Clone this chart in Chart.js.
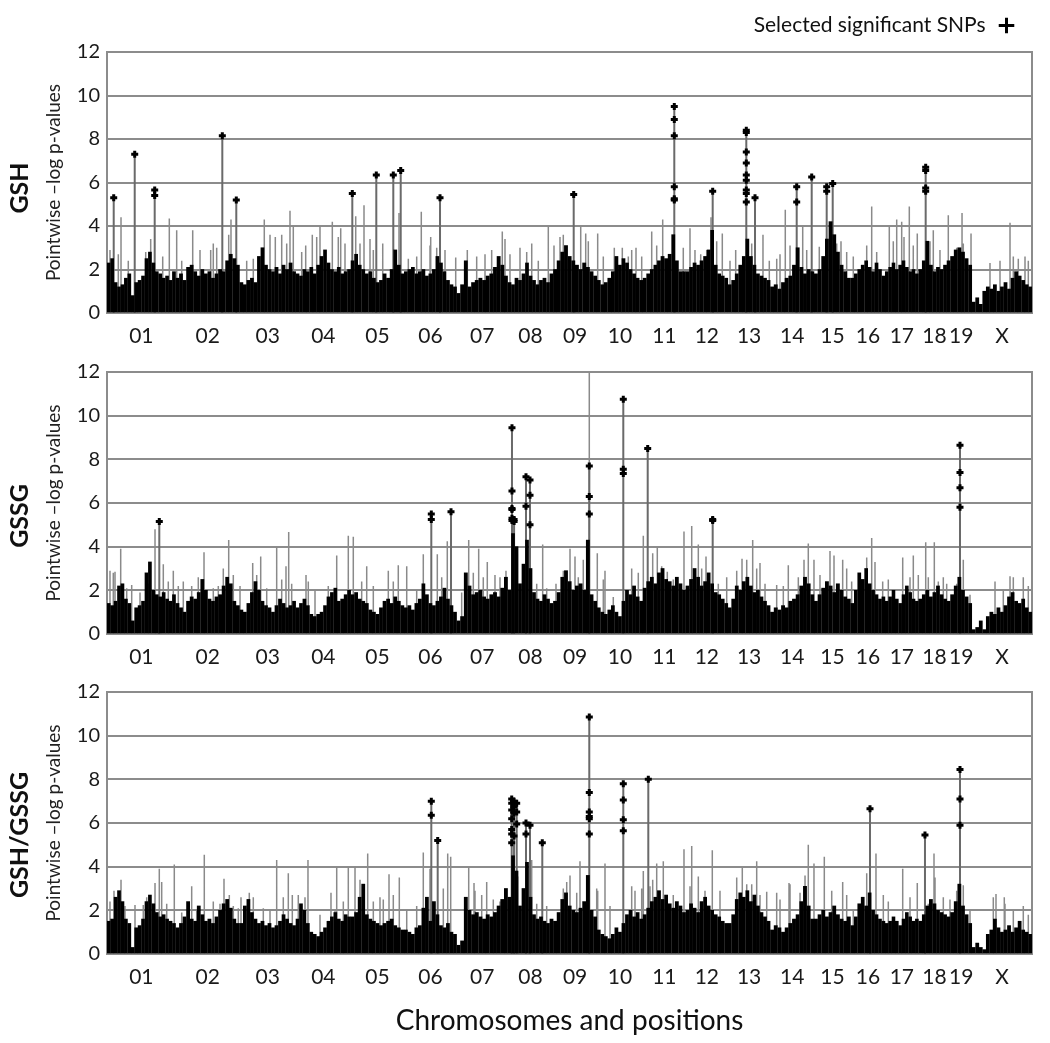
<!DOCTYPE html>
<html>
<head>
<meta charset="utf-8">
<script src="https://cdn.jsdelivr.net/npm/chart.js@4.4.1/dist/chart.umd.min.js"></script>
<style>
  body { margin: 0; background: #fff; width: 1050px; height: 1043px; position: relative; overflow: hidden; font-family: Lato, sans-serif; }
  .panel { position: absolute; left: 0; width: 1050px; }
  .tag { position: absolute; left: 18px; transform: translate(-50%, -50%) rotate(-90deg); font: bold 25px Lato, sans-serif; color: #111; white-space: nowrap; }
</style>
</head>
<body>
<div class="panel" style="top:0;height:345px"><canvas id="c1"></canvas></div>
<div class="panel" style="top:345px;height:320px"><canvas id="c2"></canvas></div>
<div class="panel" style="top:665px;height:378px"><canvas id="c3"></canvas></div>
<div class="tag" style="top:188px">GSH</div>
<div class="tag" style="top:516px">GSSG</div>
<div class="tag" style="top:835px">GSH/GSSG</div>
<script>
// chromosomes (Mb)
const chromNames = ['01','02','03','04','05','06','07','08','09','10','11','12','13','14','15','16','17','18','19','X'];
const chromLengths = [195.5,182.1,160.0,156.5,151.8,149.7,145.4,129.4,124.6,130.7,122.1,120.1,120.4,124.9,104.0,98.2,95.0,90.7,61.4,171.0];

// background -log p profile, one row per chromosome, spread evenly along it
const gshBase = [
  [2.3,2.5,1.4,1.2,1.3,1.6,1.8,0.8,1.4,1.5,1.7,2.5,2.8,2.3,1.9,1.8,1.6,1.7,1.5,1.9],
  [1.6,1.8,1.5,2.1,2.2,1.9,1.7,2.0,1.8,1.9,1.6,1.8,2.0,1.9,2.4,2.7,2.5,2.2],
  [1.4,1.3,1.5,1.6,1.4,2.6,3.0,2.2,2.0,1.9,2.1,1.8,2.2,2.0,2.3,1.9],
  [1.8,1.7,2.0,1.9,2.1,1.8,2.2,2.6,2.9,2.3,2.0,1.9,2.1,1.8,1.9,2.0],
  [2.4,2.7,2.2,2.0,1.8,1.9,1.6,1.4,1.5,1.8,1.6,2.0,2.9,2.2,1.8],
  [1.9,2.0,2.1,1.8,1.9,2.0,1.7,1.8,2.0,2.6,2.3,1.9,1.5,1.3,1.2],
  [0.9,1.3,2.4,1.2,1.4,1.5,1.6,1.5,1.7,1.8,2.1,2.6,2.2,1.7],
  [1.4,1.3,1.6,1.5,1.8,2.3,1.7,1.5,1.3,1.5,1.6,1.4,1.8],
  [2.0,2.4,2.8,3.1,2.6,2.4,2.2,2.0,2.3,2.1,1.9,1.7],
  [1.5,1.3,1.4,1.6,1.9,2.6,2.2,2.5,2.3,2.0,1.8,1.6,1.5],
  [1.6,1.8,2.0,2.2,2.4,2.6,2.5,2.7,3.6,2.4,1.9,1.9],
  [1.9,2.1,2.3,2.2,2.4,2.6,2.9,3.8,2.2,1.8,1.7,1.6],
  [1.3,1.5,1.8,2.2,2.6,3.4,2.6,2.2,1.8,1.7,1.6,1.5],
  [1.2,1.3,1.1,1.4,1.6,1.7,2.2,3.0,2.1,1.8,2.0,1.9],
  [1.8,2.0,2.6,3.4,4.2,3.6,2.8,2.2,1.9,1.6],
  [1.6,1.8,2.0,2.2,2.4,2.1,1.9,2.3,2.0,1.7],
  [1.9,2.1,2.3,2.0,2.2,2.4,2.1,1.9,2.0,1.8],
  [2.0,2.4,3.3,2.2,1.9,2.1,2.0,2.2,2.4],
  [2.6,2.9,3.0,2.8,2.5,2.2],
  [0.5,0.7,0.4,1.0,1.2,1.1,1.3,1.0,1.2,1.4,1.1,1.6,1.9,1.7,1.5,1.3,1.2]
];
const gssgBase = [
  [1.4,1.3,1.5,2.2,2.3,1.6,1.4,0.6,1.2,1.3,1.5,2.8,3.3,2.0,1.8,1.7,1.9,1.6,1.5,1.8],
  [1.4,1.2,1.0,1.5,1.7,1.6,1.9,2.5,2.0,1.6,1.5,1.7,1.8,2.2,2.6,2.3,1.5,1.3],
  [1.1,1.0,1.4,1.9,2.4,2.0,1.5,1.3,1.2,1.0,1.3,1.6,1.4,1.2,1.3,1.5],
  [1.2,1.4,1.6,1.3,0.9,0.8,0.9,1.0,1.3,1.7,1.9,2.1,1.5,1.6,1.8,2.0],
  [1.8,1.9,1.6,1.5,1.4,1.1,1.0,0.9,1.2,1.5,1.6,1.4,1.7,1.5,1.3],
  [1.2,1.3,1.1,1.4,1.6,2.3,1.8,1.4,1.3,1.5,1.7,2.1,1.6,1.3,1.0],
  [0.6,0.8,2.8,2.2,1.8,1.9,2.0,1.7,1.6,1.8,1.9,1.7,2.1,2.6],
  [2.0,4.6,4.0,2.3,3.2,4.3,3.0,1.9,1.6,1.5,1.8,1.6,1.4],
  [1.5,1.9,2.6,2.9,2.4,2.0,2.2,2.3,2.0,4.3,1.8,1.5],
  [1.2,1.0,0.9,1.1,1.3,1.0,0.8,1.5,2.0,1.8,2.2,1.7,1.5],
  [2.1,2.4,2.6,2.3,2.8,3.0,2.5,2.4,2.2,2.6,2.3,2.0],
  [2.2,2.5,3.0,2.6,2.2,2.4,2.8,2.3,1.9,1.8,1.6,1.4],
  [1.2,1.6,2.2,2.0,2.4,2.6,2.2,1.9,2.0,1.7,1.5,1.3],
  [1.0,1.2,1.1,1.3,1.2,1.5,1.6,1.8,2.2,2.6,2.3,1.8],
  [1.5,1.8,2.1,2.4,2.2,1.9,2.3,2.0,1.7,1.6],
  [1.4,2.0,2.8,2.5,3.0,2.3,2.0,1.8,1.6,1.7],
  [1.5,1.7,2.0,1.6,1.4,1.8,2.2,1.9,1.6,1.5],
  [1.6,1.8,2.0,1.7,1.9,2.2,1.8,1.6,1.5],
  [1.8,2.2,2.6,2.0,1.7,1.4],
  [0.2,0.3,0.6,0.2,0.8,1.0,0.9,1.2,1.0,1.3,1.7,1.9,1.5,1.4,1.6,1.2,1.0]
];
const ratioBase = [
  [1.5,1.6,2.6,2.9,2.4,1.6,1.4,0.3,1.2,1.3,1.6,2.4,2.7,2.3,1.9,1.7,1.8,1.6,1.5,1.4],
  [1.2,1.4,1.7,2.4,1.6,1.5,2.2,1.8,1.5,1.6,1.4,1.7,2.0,2.3,2.5,2.1,1.6,1.4],
  [1.4,2.2,2.5,1.9,1.6,1.4,1.5,1.3,1.4,1.2,1.3,1.5,1.8,1.6,1.4,1.3],
  [1.6,2.3,2.0,1.4,1.0,0.9,0.8,1.0,1.2,1.5,1.7,1.9,1.6,1.5,1.8,1.7],
  [1.7,1.9,2.6,3.2,1.8,1.6,1.5,1.4,1.3,1.4,1.5,1.6,1.3,1.2,1.1],
  [1.1,1.0,0.9,1.2,1.3,2.1,2.6,1.5,2.4,1.8,1.3,1.2,1.4,1.0,0.9],
  [0.4,0.6,2.6,2.0,1.8,1.9,1.7,1.6,1.8,1.7,1.9,2.2,2.5,3.0],
  [2.6,4.5,3.8,2.2,3.0,4.2,2.6,1.8,1.6,1.7,1.5,1.4,1.6],
  [1.5,1.9,2.5,2.8,2.2,2.0,1.9,2.1,2.4,3.6,2.0,1.7],
  [1.1,0.9,0.8,0.7,0.9,1.2,1.0,1.4,1.8,2.0,1.7,1.9,1.6],
  [1.8,2.1,2.4,2.6,2.9,2.5,2.7,2.3,2.1,2.4,2.2,1.9],
  [2.0,2.3,2.1,1.9,2.4,2.6,2.2,2.0,1.8,1.7,1.5,1.4],
  [1.4,1.8,2.5,2.8,2.6,2.9,2.4,2.7,2.2,1.9,1.7,1.5],
  [1.1,1.3,1.2,1.0,1.2,1.4,1.6,1.8,2.4,3.1,2.2,1.6],
  [1.6,1.8,2.0,1.7,1.9,2.2,1.8,1.6,1.5,1.7],
  [1.3,1.7,2.3,2.6,2.2,2.8,2.0,1.8,1.6,1.5],
  [1.4,1.5,1.7,1.5,1.3,1.6,1.9,1.7,1.5,1.6],
  [1.5,1.8,2.2,2.5,2.3,2.0,1.9,1.8,1.7],
  [1.9,2.4,3.2,2.2,1.8,1.4],
  [0.3,0.5,0.3,0.2,0.9,1.1,1.6,1.2,1.0,1.1,1.3,1.0,1.2,1.5,1.1,1.0,0.9]
];

// single tall markers: [genome position Mb, -log p]
const gshSpikes = [
  [39.9,4.4],[124.4,3.4],[177.4,4.35],[198.4,3.8],[244.0,3.8],[302.6,3.2],[346.5,3.6],[353.0,4.3],
  [447.8,4.3],[479.2,3.5],[497.4,3.6],[521.0,4.7],[530.4,4.0],[565.7,3.1],[584.5,3.6],[606.4,4.0],
  [641.5,4.2],[665.4,3.9],[708.1,4.45],[731.7,4.95],[748.8,3.4],[785.0,3.2],[831.3,4.6],[894.8,4.65],
  [921.6,3.5],[992.8,2.55],[1125.4,3.75],[1133.1,3.4],[1175.8,3.0],[1209.2,3.2],[1256.4,4.0],[1272.6,3.1],
  [1299.1,3.6],[1348.7,4.0],[1362.9,3.65],[1397.0,3.65],[1444.3,3.0],[1467.1,3.0],[1506.1,3.0],[1550.8,3.75],
  [1582.1,4.3],[1659.8,3.9],[1690.3,2.7],[1719.6,4.4],[1751.8,3.65],[1789.9,2.9],[1867.6,3.6],[1931.1,4.75],
  [1980.7,4.0],[2027.9,3.05],[2089.7,3.3],[2177.1,4.9],[2227.2,4.0],[2248.3,4.3],[2262.5,4.2],[2284.2,4.9],
  [2306.9,3.65],[2352.5,3.8],[2395.2,4.5],[2434.3,4.6],[2459.9,3.65],[2570.9,4.15],[2613.6,2.6]
];
const gshMinor = [
  [8.5,2.9],[32.2,2.7],[60.6,2.4],[110.2,2.8],[158.6,2.6],[212.7,2.4],[264.8,2.9],[295.2,2.9],
  [312.3,3.0],[397.7,2.4],[416.5,2.5],[464.1,3.6],[511.6,3.2],[554.3,2.8],[597.0,3.5],[620.6,2.9],
  [658.5,3.5],[677.6,3.2],[720.3,3.2],[758.2,2.9],[857.9,2.5],[881.7,2.6],[919.6,3.1],[938.7,3.0],
  [962.3,2.9],[1025.8,2.9],[1052.5,2.6],[1076.2,2.7],[1095.2,2.9],[1147.3,2.7],[1194.9,2.8],[1227.9,2.4],
  [1289.7,3.5],[1370.3,3.3],[1413.0,2.6],[1484.2,2.6],[1493.8,2.9],[1522.3,2.6],[1565.0,3.1],[1640.7,3.0],
  [1674.0,2.9],[1707.4,2.9],[1735.8,3.3],[1773.7,2.4],[1835.5,3.2],[1885.6,2.4],[1906.7,2.5],[1916.1,2.7],
  [1944.6,3.1],[1992.1,2.9],[2077.5,3.2],[2105.9,2.8],[2124.7,2.6],[2162.9,3.1],[2191.3,2.8],[2238.6,3.3],
  [2269.1,3.5],[2295.5,3.1],[2343.1,3.3],[2371.5,2.9],[2419.1,3.0],[2437.9,3.2],[2513.9,2.3],[2542.4,2.4],
  [2580.3,2.6],[2594.5,2.5],[2623.0,2.4]
];
const gssgSpikes = [
  [8.5,2.9],[22.8,2.85],[39.0,3.9],[70.3,2.25],[136.7,4.8],[160.3,3.2],[188.8,2.9],[217.2,2.4],
  [276.2,3.75],[331.1,3.0],[346.5,4.3],[414.8,3.25],[437.6,3.55],[483.1,4.0],[509.6,3.1],[517.3,4.67],
  [566.6,2.7],[654.0,3.6],[687.0,4.5],[701.2,4.45],[739.4,3.1],[800.9,2.9],[829.3,3.15],[853.3,3.1],
  [900.5,3.65],[940.4,3.65],[968.8,4.25],[1029.8,4.3],[1058.2,3.9],[1082.7,3.3],[1135.9,2.9],[1168.1,3.7],
  [1240.4,4.1],[1278.3,2.3],[1318.2,3.9],[1332.4,3.55],[1373.1,12],[1395.9,3.7],[1417.8,2.9],[1526.9,4.5],
  [1553.6,3.7],[1566.7,4.0],[1595.2,2.85],[1642.7,4.7],[1664.7,4.95],[1683.5,4.1],[1705.4,3.55],[1764.3,2.6],
  [1807.9,3.45],[1838.3,4.3],[1859.1,3.25],[1906.6,2.25],[1939.7,3.15],[1996.6,4.15],[2012.8,3.4],[2058.4,3.8],
  [2094.5,3.4],[2177.1,4.4],[2208.4,2.4],[2265.4,3.5],[2295.6,3.6],[2330.9,4.2],[2355.4,4.2],[2381.0,2.6],
  [2437.9,3.4],[2570.9,2.65],[2608.7,2.6]
];
const gssgMinor = [
  [17.9,2.8],[56.1,2.1],[94.0,1.9],[117.6,2.3],[174.5,2.4],[203.0,2.2],[241.1,2.2],[259.9,2.6],
  [302.6,2.1],[316.9,2.2],[359.6,2.7],[378.7,2.2],[426.2,2.7],[454.7,2.1],[497.4,2.5],[525.8,2.3],
  [573.1,2.4],[592.2,2.0],[630.0,2.2],[725.1,2.4],[758.2,2.2],[815.1,2.4],[881.7,2.0],[952.9,2.6],
  [1009.8,1.9],[1042.9,2.8],[1071.3,2.6],[1104.6,2.7],[1118.9,2.6],[1223.4,2.3],[1251.8,2.1],[1299.1,2.9],
  [1341.8,2.6],[1356.0,3.4],[1413.0,2.5],[1441.4,1.7],[1493.8,3.0],[1512.6,2.8],[1579.2,3.1],[1612.2,2.5],
  [1693.1,3.0],[1740.4,2.3],[1792.8,2.9],[1821.3,3.4],[1849.7,3.0],[1873.4,2.3],[1925.5,2.2],[1968.2,2.6],
  [1984.4,3.4],[2029.9,2.7],[2069.8,3.6],[2105.9,3.0],[2120.1,2.4],[2162.9,3.5],[2186.5,3.3],[2224.4,2.5],
  [2286.2,2.6],[2309.8,2.7],[2338.3,2.6],[2366.8,2.4],[2390.6,2.3],[2419.1,2.3],[2457.0,1.8],[2528.2,2.4],
  [2551.8,2.0],[2580.3,2.6],[2623.0,2.2]
];
const ratioSpikes = [
  [19.9,2.9],[39.9,3.4],[79.7,2.25],[103.3,2.25],[136.7,3.25],[148.9,3.9],[155.7,3.3],[191.6,4.1],
  [241.1,3.1],[277.0,4.55],[333.1,3.45],[348.2,2.7],[381.5,2.6],[405.1,2.8],[483.1,4.3],[516.2,3.7],
  [527.6,2.7],[572.2,4.3],[637.7,2.8],[654.0,4.0],[687.0,4.0],[706.1,4.0],[742.2,4.6],[786.6,2.5],
  [802.9,3.65],[832.2,3.5],[900.5,4.65],[970.0,4.6],[978.5,4.45],[1029.8,4.0],[1044.9,3.25],[1081.0,3.3],
  [1135.9,2.9],[1169.3,3.55],[1209.1,4.3],[1318.2,3.6],[1346.6,4.25],[1397.0,2.9],[1417.8,4.15],[1493.8,3.1],
  [1526.9,3.8],[1553.6,3.4],[1565.0,4.15],[1583.8,4.25],[1642.7,4.8],[1664.7,4.95],[1683.5,3.55],[1723.3,4.75],
  [1808.7,3.95],[1849.7,4.25],[1878.2,2.85],[1906.6,2.8],[1941.7,3.25],[1996.6,5.0],[2012.8,4.15],[2042.2,4.45],
  [2094.5,3.3],[2189.3,4.6],[2265.4,3.9],[2306.9,3.25],[2354.5,4.6],[2437.9,3.15],[2531.0,2.75],[2554.6,2.6],
  [2608.7,2.2]
];
const ratioMinor = [
  [8.5,2.4],[32.2,2.6],[51.2,2.2],[113.0,2.6],[170.0,2.3],[212.7,1.9],[255.4,2.0],[302.6,2.4],
  [321.7,2.3],[359.6,2.2],[373.8,2.1],[416.5,2.6],[445.0,2.1],[464.1,2.0],[501.9,2.6],[544.6,2.7],
  [563.7,2.6],[606.4,1.8],[649.1,2.0],[672.8,2.4],[720.3,3.4],[758.2,2.4],[777.2,2.6],[815.1,2.7],
  [853.3,2.0],[881.7,2.2],[919.6,3.9],[957.5,3.0],[1047.7,2.9],[1066.8,2.7],[1099.8,2.5],[1118.9,2.4],
  [1223.4,2.3],[1251.8,2.2],[1299.1,3.0],[1308.8,3.3],[1337.3,2.8],[1394.2,3.0],[1432.1,2.2],[1503.2,2.9],
  [1522.3,3.0],[1545.9,3.1],[1612.2,2.7],[1659.8,3.1],[1702.5,2.9],[1745.2,2.9],[1792.8,3.5],[1821.3,3.2],
  [1835.5,3.2],[1859.1,2.7],[1916.1,2.5],[1944.6,3.2],[1973.1,2.8],[1987.3,3.6],[2063.3,2.9],[2105.9,2.7],
  [2124.7,2.0],[2162.9,3.7],[2210.2,2.7],[2224.4,2.4],[2286.2,2.6],[2338.3,2.3],[2357.4,3.5],[2381.0,2.6],
  [2400.0,2.5],[2419.1,2.9],[2457.0,2.0],[2523.3,2.6],[2556.6,2.3],[2580.3,2.0],[2623.0,1.8]
];

// selected significant SNPs: [genome position Mb, [-log p of each SNP at that locus]]
const gshSnps = [
  [19.1,[5.3]],[78.9,[7.3]],[135.8,[5.65,5.4]],[328.3,[8.15]],[368.1,[5.2]],[698.4,[5.5]],
  [766.7,[6.35]],[815.1,[6.35]],[836.2,[6.55]],[948.1,[5.3]],[1328.7,[5.45]],
  [1615.1,[9.5,8.9,8.15,5.8,5.25,5.2]],[1724.4,[5.6]],
  [1820.1,[8.4,8.3,7.4,6.9,6.35,6.1,5.65,5.5,5.1]],[1844.9,[5.3]],[1963.6,[5.8,5.1]],
  [2006.3,[6.25]],[2049.0,[5.8,5.6]],[2066.1,[5.95]],[2330.8,[6.7,6.55,5.75,5.6]]
];
const gssgSnps = [
  [148.9,[5.15]],[923.3,[5.5,5.25]],[979.4,[5.6]],
  [1153.0,[9.45,6.55,5.75,5.7,5.3,5.2]],[1159.0,[5.25,5.15]],
  [1192.9,[7.2,5.85]],[1204.3,[7.05,6.35,5.0]],[1373.1,[7.7,6.3,5.5]],
  [1469.9,[10.75,7.55,7.35]],[1539.4,[8.5]],[1724.4,[5.25,5.2]],[2428.5,[8.65,7.4,6.7,5.8]]
];
const ratioSnps = [
  [923.3,[7.0,6.35]],[941.5,[5.2]],
  [1152.2,[7.1,6.9,6.6,6.2,5.7,5.5,5.1]],[1158.7,[7.0,6.75,6.45,5.4]],[1166.4,[6.9,6.5,5.95]],
  [1192.9,[6.0,5.5]],[1204.3,[5.9]],[1239.3,[5.1]],
  [1373.1,[10.85,7.4,6.5,6.3,6.2,5.5]],[1469.9,[7.8,7.05,6.15,5.65]],[1541.1,[8.0]],
  [2172.3,[6.65]],[2328.8,[5.45]],[2428.5,[8.45,7.1,5.9]]
];

const cumStart = [];
let genomeLength = 0;
chromLengths.forEach(l => { cumStart.push(genomeLength); genomeLength += l; });
const chromCenters = chromLengths.map((l, i) => cumStart[i] + l / 2);

function baseBars(rows) {
  const out = [];
  rows.forEach((vals, c) => {
    const w = chromLengths[c] / vals.length;
    vals.forEach((v, i) => out.push({x: cumStart[c] + (i + 0.5) * w, y: v}));
  });
  return out;
}
function stems(list) {
  const out = [];
  list.forEach(([p, h]) => out.push({x: p, y: 0}, {x: p, y: h}, {x: p, y: null}));
  return out;
}
function snpMarks(list) {
  const out = [];
  list.forEach(([p, hs]) => hs.forEach(h => out.push({x: p, y: h})));
  return out;
}

const FONT = 'Lato, sans-serif';
const GRID = '#8c8c8c';

function makeChart(id, base, spikes, snps, extra) {
  const scales = {
    x: {
      type: 'linear', min: 0, max: genomeLength, offset: false,
      afterBuildTicks: ax => { ax.ticks = chromCenters.map(v => ({value: v})); },
      ticks: {
        autoSkip: false, maxRotation: 0, padding: 11, color: '#1a1a1a',
        font: {size: 21, family: FONT},
        callback: (v, i) => chromNames[i]
      },
      grid: {display: false, drawTicks: false},
      border: {display: true, color: GRID, width: 2},
      title: extra.xTitle ? {
        display: true, text: 'Chromosomes and positions', color: '#111',
        font: {size: 28, family: FONT}, padding: {top: 0, bottom: 5}
      } : {display: false},
      afterFit: s => { s.height = extra.xHeight; }
    },
    y: {
      min: 0, max: 12, z: 1,
      ticks: {stepSize: 2, padding: 7, color: '#1a1a1a', font: {size: 20, family: FONT}},
      grid: {color: GRID, lineWidth: 2, drawTicks: false},
      border: {display: true, color: GRID, width: 2},
      title: {
        display: true, text: 'Pointwise \u2013log p-values', color: '#222',
        font: {size: 19, family: FONT}, padding: {top: 2, bottom: 0}
      },
      afterFit: s => { s.width = 67; }
    },
    y2: {
      position: 'right', min: 0, max: 12,
      ticks: {display: false}, grid: {display: false, drawTicks: false},
      border: {display: true, color: GRID, width: 2},
      afterFit: s => { s.width = 0; }
    }
  };
  if (extra.legend) {
    // empty spacer between legend and plot
    scales.xTop = {
      position: 'top',
      ticks: {display: false}, grid: {display: false, drawTicks: false},
      border: {display: false},
      afterFit: s => { s.height = 6; }
    };
  }
  return new Chart(document.getElementById(id), {
    type: 'bar',
    data: {
      datasets: [
        {
          type: 'line', label: 'Selected significant SNPs', data: snpMarks(snps),
          showLine: false, pointStyle: 'cross', pointRadius: 3.5, pointHoverRadius: 3.5,
          pointBorderWidth: 3, pointBorderColor: '#000', borderColor: '#000', backgroundColor: '#000', order: 0
        },
        {
          label: 'base', data: baseBars(base), backgroundColor: '#000', borderWidth: 0,
          barThickness: 'flex', barPercentage: 0.88, categoryPercentage: 1, order: 1
        },
        {
          type: 'line', label: 'snp stems', data: stems(snps.map(([p, hs]) => [p, Math.max(...hs)])),
          borderColor: '#6a6a6a', borderWidth: 2, pointRadius: 0, pointHoverRadius: 0, order: 2
        },
        {
          type: 'line', label: 'spikes', data: stems(spikes),
          borderColor: '#8a8a8a', borderWidth: 1.5, pointRadius: 0, pointHoverRadius: 0, order: 3
        }
      ]
    },
    options: {
      responsive: true,
      maintainAspectRatio: false,
      animation: false,
      events: [],
      layout: {padding: {left: 40, right: 18, top: extra.padTop, bottom: 0}},
      plugins: {
        tooltip: {enabled: false},
        legend: extra.legend ? {
          display: true, position: 'top', align: 'start', rtl: true,
          labels: {
            usePointStyle: true, boxHeight: 11, padding: 15, color: '#111',
            font: {size: 21, family: FONT},
            filter: item => item.datasetIndex === 0
          }
        } : {display: false}
      },
      scales: scales
    }
  });
}

makeChart('c1', gshBase, gshSpikes.concat(gshMinor), gshSnps, {padTop: 0, legend: true, xHeight: 32});
makeChart('c2', gssgBase, gssgSpikes.concat(gssgMinor), gssgSnps, {padTop: 27, legend: false, xHeight: 31});
makeChart('c3', ratioBase, ratioSpikes.concat(ratioMinor), ratioSnps, {padTop: 27, legend: false, xHeight: 89, xTitle: true});
</script>
</body>
</html>
